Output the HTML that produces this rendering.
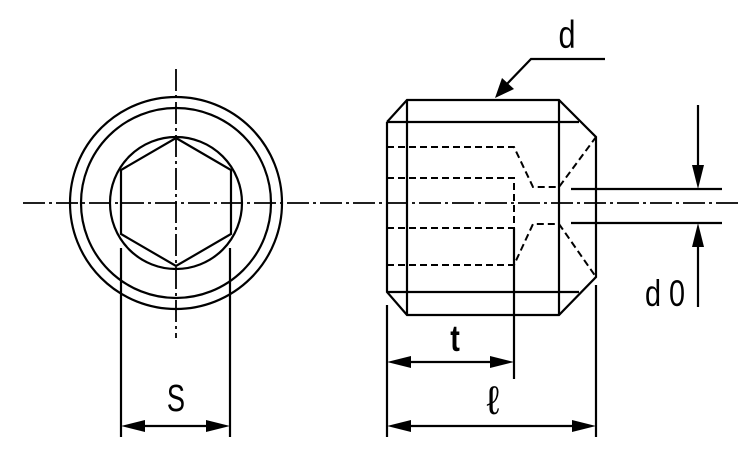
<!DOCTYPE html>
<html><head><meta charset="utf-8"><style>
html,body{margin:0;padding:0;background:#fff;width:750px;height:450px;overflow:hidden}
svg{display:block}
text{font-family:"Liberation Sans",sans-serif;fill:#000}
</style></head><body>
<svg width="750" height="450" viewBox="0 0 750 450" xmlns="http://www.w3.org/2000/svg">
<g stroke="#000" fill="none" stroke-width="2.2">
<g stroke-width="1.8" stroke-dasharray="22,4,3,4">
<line x1="23" y1="203" x2="738" y2="203"/>
<line x1="176" y1="69" x2="176" y2="338"/>
</g>
<circle cx="176" cy="203" r="106"/>
<circle cx="176" cy="203" r="95"/>
<circle cx="176" cy="203" r="66"/>
<polygon points="176,138 231,170 231,234 176,266 121,234 121,170"/>
<line x1="121" y1="248" x2="121" y2="437"/>
<line x1="230" y1="248" x2="230" y2="437"/>
<line x1="135" y1="426" x2="216" y2="426"/>
<polyline points="387,122 407,100 559,100 596,137 596,277 559,315 407,315 387,292 387,122"/>
<line x1="387" y1="122" x2="579" y2="122"/>
<line x1="387" y1="292" x2="579" y2="292"/>
<line x1="407" y1="100" x2="407" y2="315"/>
<line x1="559" y1="100" x2="559" y2="315"/>
<g stroke-width="2" stroke-dasharray="7,4">
<polyline points="387,147 514,147 533,187 559,187 596,137"/>
<polyline points="387,265 514,265 533,224 559,224 596,277"/>
<polyline points="387,178 514,178 514,228 387,228"/>
</g>
<line x1="571" y1="189" x2="722" y2="189"/>
<line x1="571" y1="223" x2="722" y2="223"/>
<line x1="698" y1="105" x2="698" y2="170"/>
<line x1="698" y1="242" x2="698" y2="307"/>
<polyline points="605,59 531,59 505,86"/>
<line x1="387" y1="305" x2="387" y2="437"/>
<line x1="596" y1="285" x2="596" y2="437"/>
<line x1="514" y1="228" x2="514" y2="379"/>
<line x1="400" y1="362" x2="500" y2="362"/>
<line x1="400" y1="426" x2="582" y2="426"/>
</g>
<g fill="#000">
<polygon points="121,426 145,420 145,432"/>
<polygon points="230,426 206,420 206,432"/>
<polygon points="387,362 411,356 411,368"/>
<polygon points="514,362 490,356 490,368"/>
<polygon points="387,426 411,420 411,432"/>
<polygon points="596,426 572,420 572,432"/>
<polygon points="698,189 692,165 704,165"/>
<polygon points="698,223 692,247 704,247"/>
<polygon points="495,98 502,78 514,89"/>
</g>
<text transform="translate(567,48) scale(0.9,1.15)" font-size="34" text-anchor="middle">d</text>
<text transform="translate(665,306) scale(0.9,1.15)" font-size="32" text-anchor="middle">d 0</text>
<text transform="translate(176,411) scale(0.85,1.2)" font-size="32" text-anchor="middle">S</text>
<text transform="translate(455,351) scale(0.9,1.15)" font-size="32" text-anchor="middle" font-weight="bold">t</text>
<text x="493" y="414" font-size="40" text-anchor="middle">ℓ</text>
</svg>
</body></html>
